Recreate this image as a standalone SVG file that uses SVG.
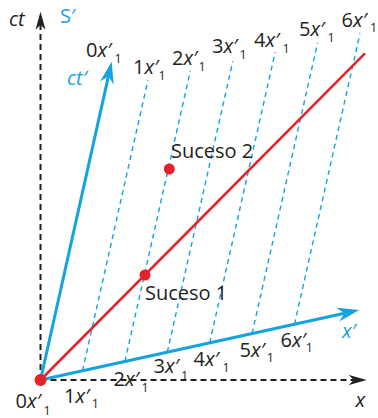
<svg xmlns="http://www.w3.org/2000/svg" width="378" height="418" viewBox="0 0 378 418">
<defs>
<style>
text { font-family: "Open Sans","Noto Sans","DejaVu Sans",sans-serif; font-size:20px; fill:#231f20; }
.i { font-style: italic; }
.sub { font-size: 12.5px; font-style: normal; }
.blue { fill:#14a3df; }
.axis { stroke:#231f20; stroke-width:2; stroke-dasharray:6 4; fill:none; }
.baxis { stroke:#14a3df; stroke-width:3; fill:none; }
.grid { stroke:#14a3df; stroke-width:1.4; stroke-dasharray:5 4; fill:none; }
.world { stroke:#e3222a; stroke-width:2.5; fill:none; }
.ev { fill:#e3222a; }
</style>
<marker id="ak" markerUnits="userSpaceOnUse" markerWidth="20" markerHeight="12" viewBox="0 -6 20 12" refX="5" refY="0" orient="auto">
<path d="M0,-5 L18,0 L0,5 L5,0 Z" fill="#231f20"/>
</marker>
<marker id="ab" markerUnits="userSpaceOnUse" markerWidth="24" markerHeight="16" viewBox="0 -8 24 16" refX="7" refY="0" orient="auto">
<path d="M0,-7 L22,0 L0,7 L7,0 Z" fill="#14a3df"/>
</marker>
</defs>
<rect width="378" height="418" fill="#ffffff"/>
<g id="connectors">
<g id="grid">
<line class="grid" x1="82.5" y1="370.7" x2="148.0" y2="80.0"/>
<line class="grid" x1="124.9" y1="361.4" x2="190.4" y2="70.7"/>
<line class="grid" x1="167.3" y1="352.1" x2="232.8" y2="61.4"/>
<line class="grid" x1="209.7" y1="342.8" x2="275.2" y2="52.1"/>
<line class="grid" x1="252.1" y1="333.5" x2="317.6" y2="42.8"/>
<line class="grid" x1="294.5" y1="324.2" x2="360.0" y2="33.5"/>
</g>
<line id="axis-ct" class="axis" x1="40.5" y1="380" x2="40.5" y2="24.7" marker-end="url(#ak)"/>
<line id="axis-x" class="axis" x1="40.5" y1="380" x2="353.7" y2="380" marker-end="url(#ak)"/>
<line id="axis-ctp" class="baxis" x1="40.5" y1="380" x2="108.4" y2="76.3" marker-end="url(#ab)"/>
<line id="axis-xp" class="baxis" x1="40.5" y1="380" x2="344.6" y2="313.2" marker-end="url(#ab)"/>
<line id="worldline" class="world" x1="40.5" y1="380" x2="365" y2="53.3"/>
</g>
<g id="origin"><circle class="ev" cx="40.5" cy="380" r="6"/></g>
<g id="suceso1"><circle class="ev" cx="145" cy="275" r="5.5"/><text x="145" y="300">Suceso 1</text></g>
<g id="suceso2"><circle class="ev" cx="169.3" cy="169" r="5.5"/><text x="171" y="158.3">Suceso 2</text></g>
<g id="axis-labels">
<text class="i" x="9" y="26">ct</text>
<text class="blue" x="60" y="23.3">S′</text>
<text class="blue i" x="67" y="85">ct′</text>
<text class="blue i" x="342" y="338.3">x′</text>
<text class="i" x="355.5" y="406.7">x</text>
</g>
<g id="top-labels">
<text x="86" y="57">0<tspan class="i">x′</tspan><tspan class="sub" x="114.5" y="63">1</tspan></text>
<text x="133" y="73.5">1<tspan class="i">x′</tspan><tspan class="sub" x="158.5" y="79.5">1</tspan></text>
<text x="172" y="65">2<tspan class="i">x′</tspan><tspan class="sub" x="198.5" y="71">1</tspan></text>
<text x="212" y="53.3">3<tspan class="i">x′</tspan><tspan class="sub" x="239.5" y="59.3">1</tspan></text>
<text x="254" y="46.7">4<tspan class="i">x′</tspan><tspan class="sub" x="282.5" y="52.7">1</tspan></text>
<text x="299" y="36">5<tspan class="i">x′</tspan><tspan class="sub" x="327.5" y="41.7">1</tspan></text>
<text x="341.5" y="26.7">6<tspan class="i">x′</tspan><tspan class="sub" x="370" y="31.7">1</tspan></text>
</g>
<g id="bottom-labels">
<text x="15.5" y="408.3">0<tspan class="i">x′</tspan><tspan class="sub" x="43.5" y="415">1</tspan></text>
<text x="64" y="403.3">1<tspan class="i">x′</tspan><tspan class="sub" x="91.8" y="408.3">1</tspan></text>
<text x="113.5" y="386">2<tspan class="i">x′</tspan><tspan class="sub" x="141.5" y="391.7">1</tspan></text>
<text x="153.5" y="373.3">3<tspan class="i">x′</tspan><tspan class="sub" x="181" y="380">1</tspan></text>
<text x="193.5" y="366">4<tspan class="i">x′</tspan><tspan class="sub" x="222.5" y="371.7">1</tspan></text>
<text x="239.5" y="356.7">5<tspan class="i">x′</tspan><tspan class="sub" x="266.8" y="361.7">1</tspan></text>
<text x="280.5" y="346.7">6<tspan class="i">x′</tspan><tspan class="sub" x="305.8" y="351.7">1</tspan></text>
</g>
</svg>
